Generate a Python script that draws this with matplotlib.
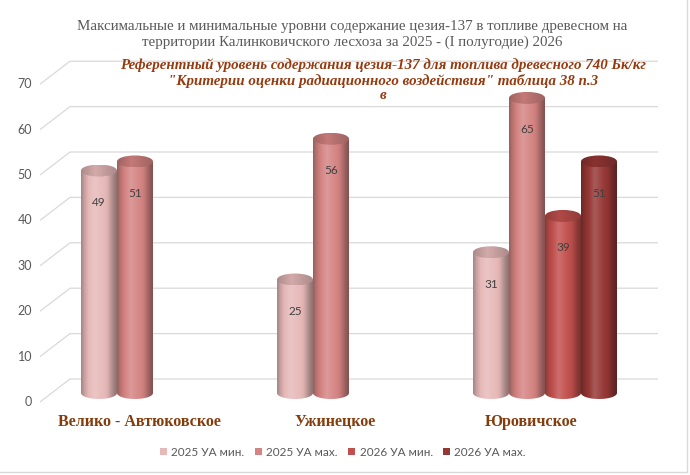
import numpy as np
import matplotlib
matplotlib.use("Agg")
import matplotlib.pyplot as plt
from matplotlib.patches import Ellipse, PathPatch, Patch
from matplotlib.path import Path
from matplotlib.colors import to_rgb
from matplotlib.lines import Line2D

# data
categories = ["Велико - Автюковское", "Ужинецкое", "Юровичское"]
series_names = ["2025 УА мин.", "2025 УА мах.", "2026 УА мин.", "2026 УА мах."]
min_2025 = [49, 25, 31]
max_2025 = [51, 56, 65]
min_2026 = [None, None, 39]
max_2026 = [None, None, 51]
y_ticks = [0, 10, 20, 30, 40, 50, 60, 70]
colors = ["#E6B9B8", "#D48482", "#C0504D", "#953735"]

title = ("Максимальные и минимальные уровни содержание цезия-137 в топливе древесном на\n"
         "территории Калинковичского лесхоза за 2025 - (I полугодие) 2026")
note = ("Референтный уровень содержания цезия-137 для топлива древесного 740 Бк/кг\n"
        "\"Критерии оценки радиационного воздействия\" таблица 38 п.3\n"
        "в")

series = [min_2025, max_2025, min_2026, max_2026]

# layout (pixels of a 690x475 picture)
W, H = 690, 475
PX_CAT = 196.0      # px per category
X0 = 153.0          # px of first category centre
PX_VAL = 4.54       # px per value unit
Y0 = 393.0          # px of value 0 (bar plane)
BAR_W = 36 / PX_CAT
ELL_H = 12 / PX_VAL

sans = ["Lato", "DejaVu Sans"]
serif = ["Liberation Serif", "DejaVu Serif"]

fig = plt.figure(figsize=(6.9, 4.75), dpi=100)
ax = fig.add_axes([0, 0, 1, 1])
ax.set_axis_off()


def px_x(p):
    return (p - X0) / PX_CAT


def shade(color, pts, vals, n=64):
    c = np.array(to_rgb(color))
    t = np.linspace(0, 1, n)
    k = np.interp(t, pts, vals)
    out = np.empty((1, n, 3))
    for i, kk in enumerate(k):
        if kk >= 0:
            out[0, i] = c + (1 - c) * kk
        else:
            out[0, i] = c * (1 + kk)
    return np.clip(out, 0, 1)


def cylinder(xc, h, color, z):
    half = BAR_W / 2
    eb = ELL_H / 2
    th = np.linspace(np.pi, 2 * np.pi, 50)
    verts = [(xc - half, h)] + list(zip(xc + half * np.cos(th), eb * np.sin(th))) \
        + [(xc + half, h), (xc - half, h)]
    body = PathPatch(Path(verts), facecolor="none", edgecolor="none")
    ax.add_patch(body)
    img = shade(color, [0, 0.1, 0.38, 0.75, 0.92, 1], [-0.28, -0.12, 0.18, -0.05, -0.3, -0.38])
    im = ax.imshow(img, extent=[xc - half, xc + half, -eb, h], aspect="auto",
                   interpolation="bilinear", zorder=z)
    im.set_clip_path(body)
    top = Ellipse((xc, h), BAR_W, ELL_H, facecolor="none", edgecolor="none")
    ax.add_patch(top)
    img2 = shade(color, [0, 0.4, 1], [-0.25, -0.08, -0.25])
    im2 = ax.imshow(img2, extent=[xc - half, xc + half, h - eb, h + eb], aspect="auto",
                    interpolation="bilinear", zorder=z + 0.001)
    im2.set_clip_path(top)


# back wall gridlines with side diagonals
front_dy = -9 / PX_VAL
back_dy = 14 / PX_VAL
for v in y_ticks:
    ax.plot([px_x(40), px_x(70), px_x(658)], [v + front_dy, v + back_dy, v + back_dy],
            color="#D9D9D9", lw=0.9, zorder=1, solid_capstyle="butt")
    ax.text(px_x(32), v + front_dy, str(v), ha="right", va="center",
            fontsize=9, color="#595959", family=sans)

# cylinders
z = 2
for i in range(len(categories)):
    for j, s in enumerate(series):
        v = s[i]
        if v is None:
            continue
        xc = i + (j - 1.5) * BAR_W
        cylinder(xc, v, colors[j], z)
        ax.text(xc, v - 7, str(v), ha="center", va="center", fontsize=8.5,
                color="#404040", family=sans, zorder=50)
        z += 0.01

# category labels
for i, name in enumerate(categories):
    ax.text(i - 14 / PX_CAT, (Y0 - 422) / PX_VAL, name, ha="center", va="center",
            fontsize=11.5, fontweight="bold", color="#843C0C", family=serif)

ax.set_xlim(px_x(0), px_x(W))
ax.set_ylim((Y0 - H) / PX_VAL, Y0 / PX_VAL)

fig.text(352 / W, 1 - 34.5 / H, title, ha="center", va="center", fontsize=10.8,
         color="#595959", family=serif, linespacing=1.25)
fig.text(383 / W, 1 - 80 / H, note, ha="center", va="center", fontsize=10.8,
         fontweight="bold", style="italic", color="#963A10", family=serif,
         linespacing=1.18, zorder=60)

handles = [Patch(facecolor=c, edgecolor="none") for c in colors]
fig.legend(handles, series_names, loc="center", bbox_to_anchor=(343 / W, 1 - 452 / H),
           ncol=4, frameon=False, handlelength=0.6, handleheight=0.6,
           handletextpad=0.35, columnspacing=0.9, labelcolor="#595959",
           prop={"family": sans, "size": 8.5})

# chart frame edges visible in the picture
fig.add_artist(Line2D([687 / W, 687 / W], [3 / H, 1], transform=fig.transFigure,
                      color="#D9D9D9", lw=1))
fig.add_artist(Line2D([0, 687 / W], [3 / H, 3 / H], transform=fig.transFigure,
                      color="#D9D9D9", lw=1))

fig.savefig("out.png", dpi=100)
